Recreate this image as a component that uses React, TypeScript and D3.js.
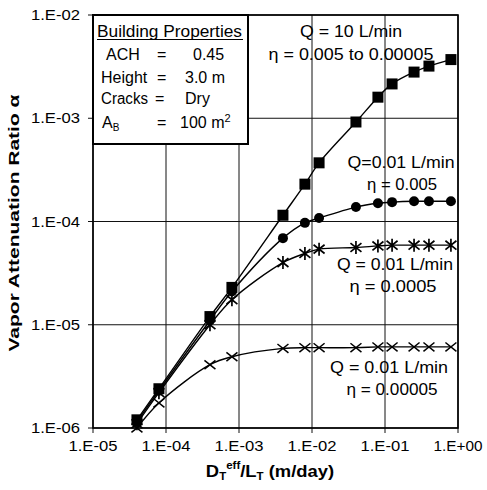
import React from "react";
import * as d3 from "d3";

const xValues = [4e-5, 8e-5, 4e-4, 8e-4, 4e-3, 8e-3, 1.25e-2, 4e-2, 8e-2, 1.25e-1, 2.5e-1, 4e-1, 8e-1];
const ySquares = [1.2e-6, 2.4e-6, 1.2e-5, 2.3e-5, 1.15e-4, 2.3e-4, 3.7e-4, 9.2e-4, 1.6e-3, 2.15e-3, 2.8e-3, 3.2e-3, 3.7e-3];
const yCircles = [1.15e-6, 2.3e-6, 1.1e-5, 2.1e-5, 6.9e-5, 9.7e-5, 1.08e-4, 1.38e-4, 1.5e-4, 1.54e-4, 1.57e-4, 1.57e-4, 1.57e-4];
const yStars = [1.1e-6, 2.2e-6, 1.0e-5, 1.75e-5, 4.0e-5, 4.9e-5, 5.4e-5, 5.6e-5, 5.8e-5, 5.9e-5, 5.9e-5, 5.9e-5, 5.9e-5];
const yCrosses = [1.0e-6, 1.75e-6, 4.1e-6, 4.9e-6, 5.9e-6, 6.0e-6, 6.0e-6, 6.0e-6, 6.1e-6, 6.1e-6, 6.1e-6, 6.1e-6, 6.1e-6];

const xTicks = [1e-5, 1e-4, 1e-3, 1e-2, 1e-1, 1];
const xTickLabels = ["1.E-05", "1.E-04", "1.E-03", "1.E-02", "1.E-01", "1.E+00"];
const yTicks = [1e-6, 1e-5, 1e-4, 1e-3, 1e-2];
const yTickLabels = ["1.E-06", "1.E-05", "1.E-04", "1.E-03", "1.E-02"];

const FONT = "'Liberation Sans', Arial, Helvetica, sans-serif";

export default function App() {
  const W = 487, H = 490;
  const left = 93, right = 458, top = 15, bottom = 428;
  const x = d3.scaleLog().domain([1e-5, 1]).range([left, right]);
  const y = d3.scaleLog().domain([1e-6, 1e-2]).range([bottom, top]);

  const line = d3
    .line<[number, number]>()
    .x((d) => x(d[0]))
    .y((d) => y(d[1]))
    .curve(d3.curveCatmullRom.alpha(0.5));

  const series = [
    { ys: yCrosses, marker: "cross" },
    { ys: yStars, marker: "star" },
    { ys: yCircles, marker: "circle" },
    { ys: ySquares, marker: "square" },
  ];

  const marker = (type: string, cx: number, cy: number, key: string) => {
    if (type === "square") {
      return <rect key={key} x={cx - 5.5} y={cy - 5.5} width={11} height={11} fill="#000" />;
    }
    if (type === "circle") {
      return <circle key={key} cx={cx} cy={cy} r={5} fill="#000" />;
    }
    const s = 5.5;
    const p = `M${cx - s},${cy - s * 0.8}L${cx + s},${cy + s * 0.8}M${cx - s},${cy + s * 0.8}L${cx + s},${cy - s * 0.8}`;
    if (type === "star") {
      return (
        <path key={key} d={p + `M${cx},${cy - s - 1}L${cx},${cy + s + 1}`} stroke="#000" strokeWidth={1.7} fill="none" />
      );
    }
    return <path key={key} d={p} stroke="#000" strokeWidth={1.5} fill="none" />;
  };

  const annText = (t: string, cx: number, by: number, len: number) => (
    <text x={cx} y={by} textAnchor="middle" fontSize={16} textLength={len} lengthAdjust="spacingAndGlyphs">
      {t}
    </text>
  );

  return (
    <svg width={W} height={H} style={{ display: "block", position: "absolute", left: 0, top: 0 }} fontFamily={FONT}>
      <rect x={0} y={0} width={W} height={H} fill="#fff" />
      {/* grid */}
      {xTicks.map((t, i) => (
        <line key={"gx" + i} x1={x(t)} x2={x(t)} y1={top} y2={bottom + 5} stroke="#111" strokeWidth={1} />
      ))}
      {yTicks.map((t, i) => (
        <line key={"gy" + i} x1={left - 5} x2={right} y1={y(t)} y2={y(t)} stroke="#111" strokeWidth={1} />
      ))}
      <rect x={left} y={top} width={right - left} height={bottom - top} fill="none" stroke="#000" strokeWidth={1.6} />

      {/* tick labels */}
      {xTicks.map((t, i) => (
        <text key={"xl" + i} x={x(t)} y={451} textAnchor="middle" fontSize={14} textLength={49} lengthAdjust="spacingAndGlyphs">
          {xTickLabels[i]}
        </text>
      ))}
      {yTicks.map((t, i) => (
        <text key={"yl" + i} x={80} y={y(t) + 5} textAnchor="end" fontSize={14} textLength={49} lengthAdjust="spacingAndGlyphs">
          {yTickLabels[i]}
        </text>
      ))}

      {/* series */}
      {series.map((s, i) => (
        <path
          key={"l" + i}
          d={line(xValues.map((v, j) => [v, s.ys[j]] as [number, number])) || ""}
          fill="none"
          stroke="#000"
          strokeWidth={1.4}
        />
      ))}
      {series.map((s, i) => (
        <g key={"m" + i}>{xValues.map((v, j) => marker(s.marker, x(v), y(s.ys[j]), `${i}-${j}`))}</g>
      ))}

      {/* properties box */}
      <rect x={left} y={top} width={155} height={129} fill="#fff" stroke="#000" strokeWidth={2} />
      <text x={97} y={37} fontSize={16} textLength={145} lengthAdjust="spacingAndGlyphs">Building Properties</text>
      <line x1={97} x2={243} y1={39.5} y2={39.5} stroke="#000" strokeWidth={1.2} />
      <g fontSize={16}>
        <text x={106} y={60}>ACH</text>
        <text x={157} y={60}>=</text>
        <text x={193} y={60}>0.45</text>
        <text x={101} y={83}>Height</text>
        <text x={157} y={83}>=</text>
        <text x={185} y={83}>3.0 m</text>
        <text x={101} y={104} textLength={47} lengthAdjust="spacingAndGlyphs">Cracks</text>
        <text x={155} y={104}>=</text>
        <text x={185} y={104}>Dry</text>
        <text x={102} y={128}>
          A<tspan fontSize={10} dy={3}>B</tspan>
        </text>
        <text x={157} y={128}>=</text>
        <text x={180} y={128}>
          100 m<tspan fontSize={11} dy={-6}>2</tspan>
        </text>
      </g>

      {/* annotations */}
      {annText("Q = 10 L/min", 351, 37, 102)}
      {annText("\u03b7 = 0.005 to 0.00005", 351, 60, 165)}
      {annText("Q=0.01 L/min", 401, 168, 107)}
      {annText("\u03b7 = 0.005", 402, 190, 70)}
      {annText("Q = 0.01 L/min", 395, 270, 116)}
      {annText("\u03b7 = 0.0005", 393, 292, 87)}
      {annText("Q = 0.01 L/min", 389, 373, 118)}
      {annText("\u03b7 = 0.00005", 392, 395, 91)}

      {/* axis titles */}
      <text
        transform={`translate(19,223) rotate(-90)`}
        textAnchor="middle"
        fontSize={14}
        fontWeight="bold"
        textLength={257}
        lengthAdjust="spacingAndGlyphs"
      >
        Vapor Attenuation Ratio {"\u03b1"}
      </text>
      <g transform="translate(270,477) scale(1.15,1)">
        <text x={0} y={0} textAnchor="middle" fontSize={16} fontWeight="bold">
          D<tspan fontSize={10} dy={3}>T</tspan>
          <tspan fontSize={10} dy={-11}>eff</tspan>
          <tspan dy={8}>/L</tspan>
          <tspan fontSize={10} dy={3}>T</tspan>
          <tspan dy={-3}> (m/day)</tspan>
        </text>
      </g>
    </svg>
  );
}
